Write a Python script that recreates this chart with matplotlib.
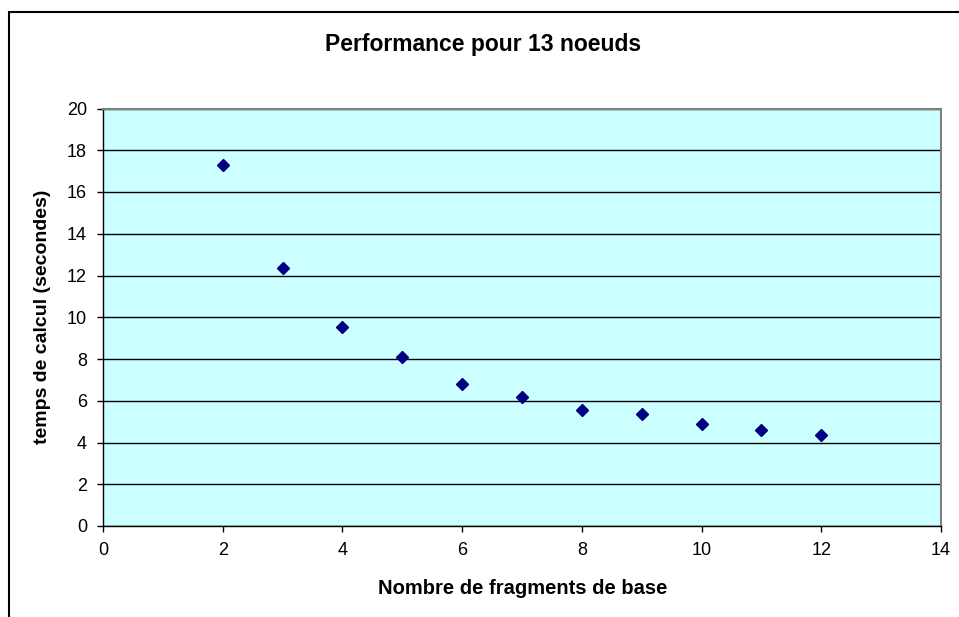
import matplotlib
matplotlib.use("Agg")
import matplotlib.pyplot as plt
from matplotlib.patches import Rectangle

# donnees
fragments = [2, 3, 4, 5, 6, 7, 8, 9, 10, 11, 12]
temps = [17.28, 12.38, 9.53, 8.10, 6.82, 6.18, 5.54, 5.38, 4.90, 4.62, 4.35]
xticks = [0, 2, 4, 6, 8, 10, 12, 14]
yticks = [0, 2, 4, 6, 8, 10, 12, 14, 16, 18, 20]

plt.rcParams['font.family'] = ['Liberation Sans', 'DejaVu Sans']

W, H = 959, 617
fig = plt.figure(figsize=(W / 100, H / 100), dpi=100)

# cadre du graphique (coupe a droite et en bas)
fig.patches.append(Rectangle((8.5 / W, -0.1), 1.2, (H - 11.5) / H + 0.1,
                             transform=fig.transFigure, fill=False,
                             edgecolor='black', linewidth=1.5))

ax = fig.add_axes([103 / W, 1 - 526 / H, (941 - 103) / W, (526 - 108.5) / H])
ax.set_facecolor('#CCFFFF')
ax.plot(fragments, temps, linestyle='none', marker='D', markersize=6,
        color='#000080', zorder=3)

ax.set_xlim(0, 14)
ax.set_ylim(0, 20)
ax.set_xticks(xticks)
ax.set_yticks(yticks)
ax.yaxis.grid(True, color='black', linewidth=1)
ax.set_axisbelow(True)
ax.tick_params(direction='out', length=4.5, width=1, labelsize=13, pad=7)

for side in ['top', 'right']:
    ax.spines[side].set_color('#808080')
    ax.spines[side].set_linewidth(1.5)
for side in ['left', 'bottom']:
    ax.spines[side].set_color('black')
    ax.spines[side].set_linewidth(1)

fig.text(483 / W, 1 - 45 / H, 'Performance pour 13 noeuds', ha='center',
         va='center', fontsize=16.5, fontweight='bold')
fig.text(523 / W, 1 - 588 / H, 'Nombre de fragments de base', ha='center',
         va='center', fontsize=14.5, fontweight='bold')
fig.text(43 / W, 1 - 317 / H, 'temps de calcul (secondes)', ha='center',
         va='center', rotation=90, fontsize=14, fontweight='bold')

fig.savefig('out.png', dpi=100)
